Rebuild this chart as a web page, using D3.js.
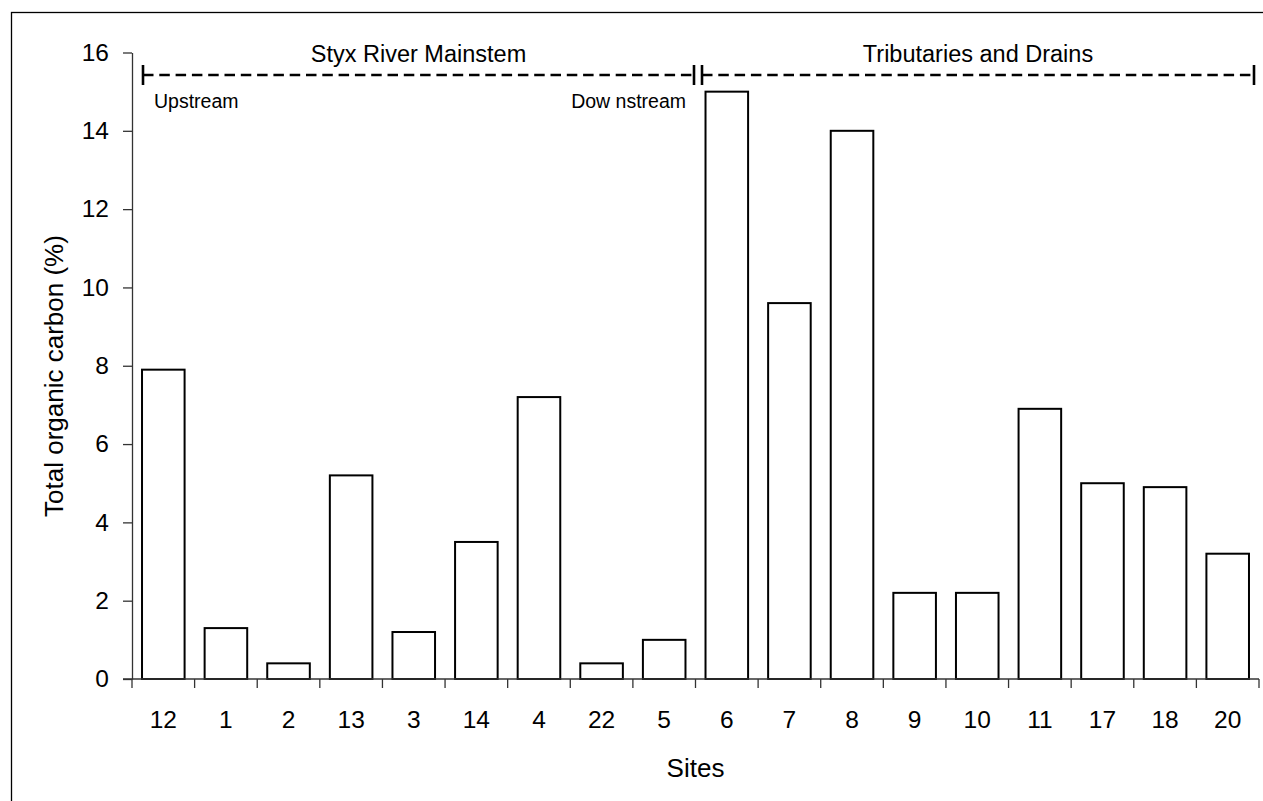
<!DOCTYPE html>
<html>
<head>
<meta charset="utf-8">
<script src="https://cdn.jsdelivr.net/npm/d3@7"></script>
<style>
  body { margin: 0; background: #fff; }
  svg { font-family: "Liberation Sans", Arial, sans-serif; }
</style>
</head>
<body>
<div id="chart"></div>
<script>
const sites = ["12", "1", "2", "13", "3", "14", "4", "22", "5", "6", "7", "8", "9", "10", "11", "17", "18", "20"];
const toc = [7.9, 1.3, 0.4, 5.2, 1.2, 3.5, 7.2, 0.4, 1.0, 15.0, 9.6, 14.0, 2.2, 2.2, 6.9, 5.0, 4.9, 3.2];
const yTicks = [0, 2, 4, 6, 8, 10, 12, 14, 16];
const groups = [
  { label: "Styx River Mainstem", first: 0, last: 8 },
  { label: "Tributaries and Drains", first: 9, last: 17 }
];

const width = 1263;
const height = 801;
const margin = { top: 52.5, right: 4, bottom: 122, left: 132 };

const svg = d3.select("#chart").append("svg")
  .attr("width", width)
  .attr("height", height);

// outer frame
svg.append("rect")
  .attr("x", 11.5).attr("y", 12.5)
  .attr("width", width).attr("height", height)
  .attr("fill", "none").attr("stroke", "#000").attr("stroke-width", 1.3);

const x = d3.scaleBand()
  .domain(sites)
  .range([margin.left, width - margin.right])
  .paddingInner(0.32)
  .paddingOuter(0.16);

const y = d3.scaleLinear()
  .domain([0, 16])
  .range([height - margin.bottom, margin.top]);

const step = x.step();
const edge = i => margin.left + i * step;

// bars
svg.append("g").selectAll("rect")
  .data(sites)
  .join("rect")
  .attr("x", d => x(d))
  .attr("y", (d, i) => y(toc[i]))
  .attr("width", x.bandwidth())
  .attr("height", (d, i) => y(0) - y(toc[i]))
  .attr("fill", "#fff")
  .attr("stroke", "#000")
  .attr("stroke-width", 2);

// y axis
const yAxis = svg.append("g")
  .attr("transform", `translate(${margin.left},0)`)
  .call(d3.axisLeft(y).tickValues(yTicks).tickSize(9).tickPadding(14).tickSizeOuter(0));
yAxis.select(".domain").attr("stroke", "#333").attr("stroke-width", 1.3);
yAxis.selectAll(".tick line").attr("stroke", "#333").attr("stroke-width", 1.3);
yAxis.selectAll(".tick text")
  .attr("font-size", 24.5).attr("fill", "#000")
  .attr("font-family", "Liberation Sans, Arial, sans-serif");

// x axis: baseline line and ticks at category boundaries
const xg = svg.append("g");
xg.append("line")
  .attr("x1", margin.left - 9).attr("x2", width - margin.right)
  .attr("y1", y(0)).attr("y2", y(0))
  .attr("stroke", "#333").attr("stroke-width", 1.3);
xg.selectAll(".bnd")
  .data(d3.range(sites.length + 1))
  .join("line")
  .attr("x1", i => edge(i)).attr("x2", i => edge(i))
  .attr("y1", y(0)).attr("y2", y(0) + 9)
  .attr("stroke", "#333").attr("stroke-width", 1.3);
xg.selectAll(".lbl")
  .data(sites)
  .join("text")
  .attr("x", d => x(d) + x.bandwidth() / 2)
  .attr("y", y(0) + 49)
  .attr("text-anchor", "middle")
  .attr("font-size", 24.5)
  .text(d => d);

// axis titles
svg.append("text")
  .attr("x", (margin.left + width - margin.right) / 2)
  .attr("y", 777)
  .attr("text-anchor", "middle")
  .attr("font-size", 26)
  .text("Sites");

svg.append("text")
  .attr("transform", `translate(63,376) rotate(-90)`)
  .attr("text-anchor", "middle")
  .attr("font-size", 26)
  .text("Total organic carbon (%)");

// group brackets
const lineY = 75;
const ends = [
  [edge(0) + 11, edge(9) - 1.5],
  [edge(9) + 6.5, edge(18) - 5]
];
groups.forEach((g, k) => {
  const [a, b] = ends[k];
  svg.append("line")
    .attr("x1", a).attr("x2", b)
    .attr("y1", lineY).attr("y2", lineY)
    .attr("stroke", "#000").attr("stroke-width", 2.3)
    .attr("stroke-dasharray", "10.5,5.8");
  [a, b].forEach(px => svg.append("line")
    .attr("x1", px).attr("x2", px)
    .attr("y1", lineY - 10).attr("y2", lineY + 10)
    .attr("stroke", "#000").attr("stroke-width", 2.6));
  svg.append("text")
    .attr("x", (a + b) / 2)
    .attr("y", 62)
    .attr("text-anchor", "middle")
    .attr("font-size", 23.5)
    .text(g.label);
});

svg.append("text")
  .attr("x", ends[0][0] + 11)
  .attr("y", 108)
  .attr("font-size", 19.5)
  .text("Upstream");

svg.append("text")
  .attr("x", ends[0][1] - 8)
  .attr("y", 108)
  .attr("text-anchor", "end")
  .attr("font-size", 19.5)
  .text("Dow nstream");
</script>
</body>
</html>
